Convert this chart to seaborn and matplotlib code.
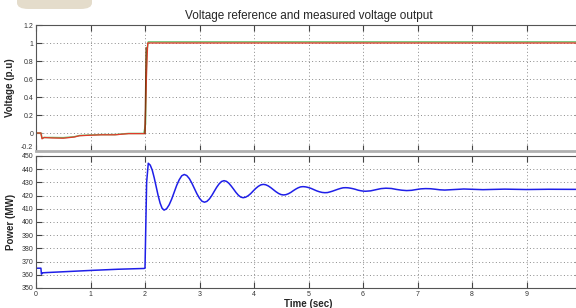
import numpy as np
import pandas as pd
import matplotlib
matplotlib.use("Agg")
import matplotlib.pyplot as plt
import seaborn as sns
from matplotlib.patches import FancyBboxPatch

# ---------------- data ----------------
v_time = [0.0, 0.09, 0.11, 0.15, 0.3, 0.5, 0.7, 0.8, 1.0, 1.2, 1.45, 1.6, 1.7, 1.98, 2.0, 2.03, 2.05, 10.0]
v_meas = [0.0, 0.0, -0.065, -0.05, -0.055, -0.058, -0.045, -0.03, -0.025, -0.02, -0.02, -0.012, -0.007, -0.007, -0.007, 0.7, 1.0, 1.0]
v_ref_time = [0.0, 0.09, 0.11, 0.15, 0.3, 0.5, 0.7, 0.8, 1.0, 1.2, 1.45, 1.6, 1.7, 1.98, 2.01, 2.03, 2.06, 10.0]
v_ref = [0.0, 0.0, -0.055, -0.05, -0.05, -0.052, -0.042, -0.028, -0.022, -0.018, -0.018, -0.01, -0.005, -0.005, 0.1, 0.9, 1.012, 1.012]

p_time = [0.0, 0.09, 0.1, 0.12, 0.2, 0.5, 1.0, 1.5, 1.98, 2.0, 2.03, 2.06,
          2.096, 2.133, 2.169, 2.205, 2.241, 2.278, 2.314, 2.35,
          2.396, 2.443, 2.489, 2.535, 2.581, 2.628, 2.674, 2.72,
          2.766, 2.813, 2.859, 2.905, 2.951, 2.998, 3.044, 3.09,
          3.135, 3.18, 3.225, 3.27, 3.315, 3.36, 3.405, 3.45,
          3.494, 3.538, 3.581, 3.625, 3.669, 3.713, 3.756, 3.80,
          3.846, 3.893, 3.939, 3.985, 4.031, 4.078, 4.124, 4.17,
          4.216, 4.263, 4.309, 4.355, 4.401, 4.448, 4.494, 4.54,
          4.585, 4.63, 4.675, 4.72, 4.765, 4.81, 4.855, 4.90,
          4.95, 5.0, 5.05, 5.1, 5.15, 5.2, 5.25, 5.30,
          5.348, 5.395, 5.443, 5.49, 5.538, 5.585, 5.633, 5.68,
          5.726, 5.773, 5.819, 5.865, 5.911, 5.958, 6.004, 6.05,
          6.14, 6.24, 6.33, 6.42, 6.52, 6.61, 6.71, 6.8,
          6.89, 6.98, 7.06, 7.15, 7.24, 7.33, 7.41, 7.5,
          7.85, 8.2, 8.6, 9.0, 9.4, 10.0]
p_power = [365.0, 365.0, 360.5, 361.5, 361.7, 362.3, 363.3, 364.2, 364.8, 365.0, 430.0, 444.5,
           443.1, 439.3, 433.5, 426.8, 420.0, 414.2, 410.4, 409.0,
           410.0, 413.0, 417.3, 422.5, 427.7, 432.0, 435.0, 436.0,
           435.2, 432.9, 429.5, 425.5, 421.5, 418.1, 415.8, 415.0,
           415.6, 417.4, 420.0, 423.2, 426.3, 428.9, 430.7, 431.3,
           430.8, 429.4, 427.3, 424.9, 422.4, 420.3, 418.9, 418.4,
           418.8, 419.9, 421.5, 423.5, 425.4, 427.0, 428.1, 428.5,
           428.2, 427.3, 426.0, 424.5, 423.0, 421.7, 420.8, 420.5,
           420.7, 421.4, 422.4, 423.7, 424.9, 425.9, 426.6, 426.8,
           426.6, 426.1, 425.4, 424.5, 423.6, 422.9, 422.4, 422.2,
           422.3, 422.8, 423.4, 424.1, 424.8, 425.4, 425.9, 426.0,
           425.9, 425.6, 425.2, 424.7, 424.1, 423.7, 423.4, 423.3,
           423.6, 424.5, 425.3, 425.6, 425.4, 424.7, 424.1, 423.8,
           424.0, 424.6, 425.1, 425.3, 425.2, 424.8, 424.4, 424.2,
           425.0, 424.5, 424.9, 424.6, 424.8, 424.7]

v_yticks = [-0.2, 0, 0.2, 0.4, 0.6, 0.8, 1, 1.2]
v_yticklabels = ["-0.2", "0", "0.2", "0.4", "0.6", "0.8", "1", "1.2"]
p_yticks = [350, 360, 370, 380, 390, 400, 410, 420, 430, 440, 450]
x_ticks = [0, 1, 2, 3, 4, 5, 6, 7, 8, 9]

title = "Voltage reference and measured voltage output"
v_label = "Voltage (p.u)"
p_label = "Power (MW)"
x_label = "Time (sec)"

# ---------------- figure ----------------
sns.set_style("white")
plt.rcParams['font.family'] = ['Liberation Sans', 'DejaVu Sans']

W, H = 576, 308
fig = plt.figure(figsize=(W / 100, H / 100), dpi=100)

# decorative beige blob in top-left corner
blob = FancyBboxPatch((17 / W, 1 - 9 / H), 75 / W, 20 / H,
                      boxstyle="round,pad=0,rounding_size=0.02",
                      transform=fig.transFigure, facecolor="#e4dccb",
                      edgecolor="none", zorder=0)
fig.patches.append(blob)

left = 36 / W
width = 545 / W
ax1 = fig.add_axes([left, 1 - 151 / H, width, 126 / H])
ax2 = fig.add_axes([left, 1 - 288 / H, width, 132 / H])

df_ref = pd.DataFrame({"t": v_ref_time, "v": v_ref})
df_meas = pd.DataFrame({"t": v_time, "v": v_meas})
df_p = pd.DataFrame({"t": p_time, "p": p_power})

sns.lineplot(data=df_ref, x="t", y="v", ax=ax1, color="#6cc06c", lw=1.1, sort=False)
sns.lineplot(data=df_meas, x="t", y="v", ax=ax1, color="#e03a2a", lw=0.9, sort=False)
# dark trace at the step
sns.lineplot(x=[2.0, 2.02], y=[-0.007, 0.95], ax=ax1, color="#7a3a10", lw=0.9)
sns.lineplot(data=df_p, x="t", y="p", ax=ax2, color="#1f1fe8", lw=1.1, sort=False)

for ax in (ax1, ax2):
    ax.set_xlim(0, 10)
    ax.set_xticks(x_ticks)
    ax.grid(True, color="#8a8a8a", linestyle=(0, (1, 2.5)), lw=0.7)
    ax.tick_params(direction="in", length=4, width=0.8, colors="#444444",
                   labelsize=5, labelcolor="#333333", pad=2,
                   top=True, right=True, bottom=True, left=True)
    for s in ax.spines.values():
        s.set_color("#555555")
        s.set_linewidth(0.8)
    ax.set_xlabel("")

ax1.set_ylim(-0.2, 1.2)
ax1.set_yticks(v_yticks)
ax1.set_yticklabels(v_yticklabels)
ax1.set_xticklabels([])
ax1.spines["bottom"].set_color("#b0b0b0")
ax1.spines["bottom"].set_linewidth(2.0)
ax1.set_ylabel(v_label, fontsize=7, fontweight="bold", labelpad=4)
ax1.set_title(title, fontsize=8.5, pad=4)
# nudge the lowest label up a little so it does not collide with 450
ax1.get_yticklabels()[0].set_va("bottom")

ax2.set_ylim(350, 450)
ax2.set_yticks(p_yticks)
ax2.set_ylabel(p_label, fontsize=7, fontweight="bold", labelpad=4)
ax2.set_xlabel(x_label, fontsize=7, fontweight="bold", labelpad=1)

fig.savefig("out.png", dpi=100)
